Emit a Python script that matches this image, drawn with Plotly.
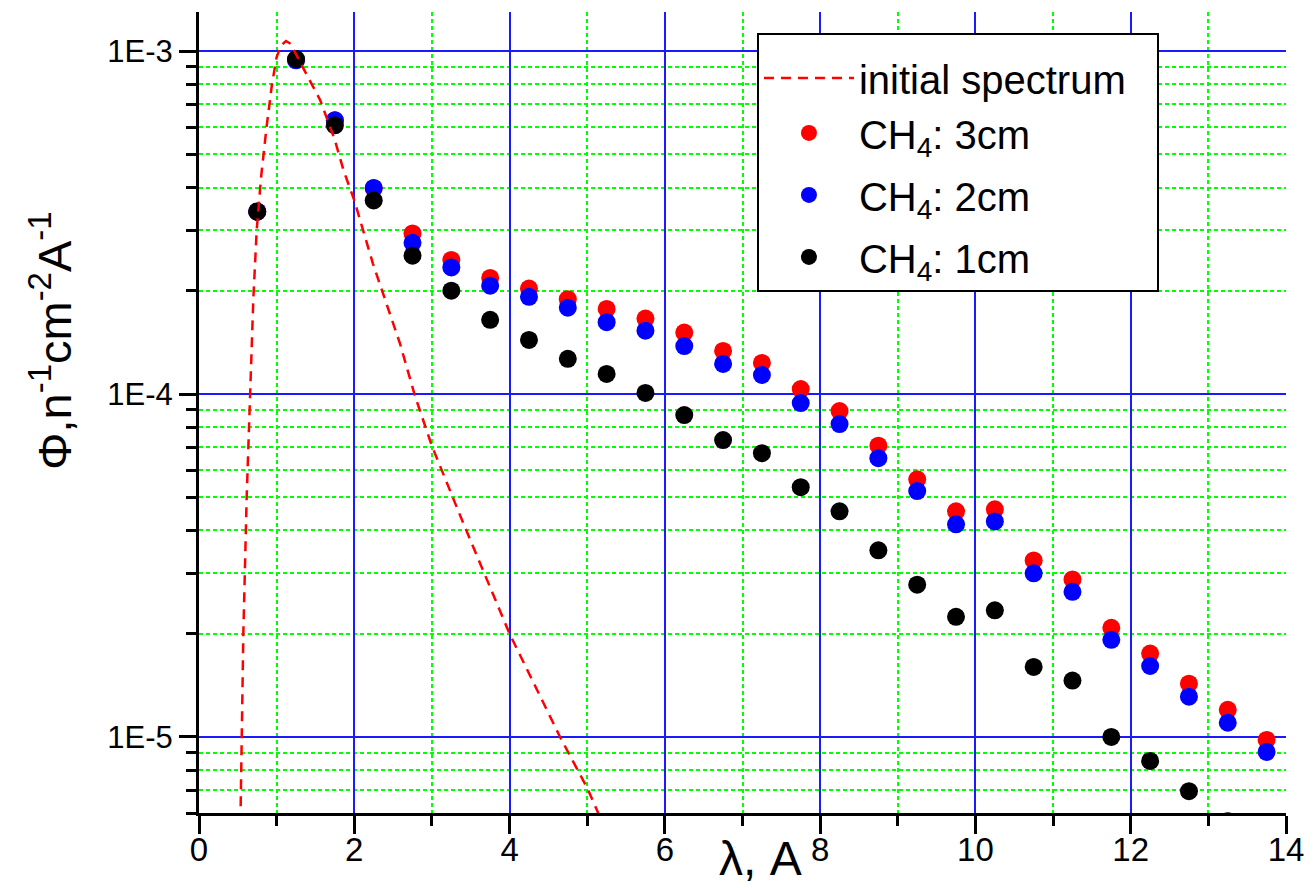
import plotly.graph_objects as go

# ---------------- data ----------------
wavelength = [0.75, 1.25, 1.75, 2.25, 2.75, 3.25, 3.75, 4.25, 4.75, 5.25, 5.75,
              6.25, 6.75, 7.25, 7.75, 8.25, 8.75, 9.25, 9.75, 10.25, 10.75,
              11.25, 11.75, 12.25, 12.75, 13.25, 13.75]

flux_3cm = [3.40e-4, 9.45e-4, 6.28e-4, 3.98e-4, 2.94e-4, 2.46e-4, 2.18e-4, 2.03e-4,
            1.89e-4, 1.77e-4, 1.66e-4, 1.51e-4, 1.335e-4, 1.232e-4, 1.034e-4,
            8.92e-5, 7.07e-5, 5.64e-5, 4.55e-5, 4.61e-5, 3.27e-5, 2.88e-5,
            2.08e-5, 1.75e-5, 1.43e-5, 1.20e-5, 9.80e-6]

flux_2cm = [3.40e-4, 9.40e-4, 6.28e-4, 3.99e-4, 2.76e-4, 2.34e-4, 2.07e-4, 1.92e-4,
            1.785e-4, 1.62e-4, 1.53e-4, 1.38e-4, 1.224e-4, 1.136e-4, 9.41e-5,
            8.17e-5, 6.50e-5, 5.21e-5, 4.17e-5, 4.25e-5, 3.00e-5, 2.65e-5,
            1.92e-5, 1.61e-5, 1.31e-5, 1.10e-5, 9.04e-6]

wavelength_1cm = wavelength[:26]
flux_1cm = [3.405e-4, 9.475e-4, 6.075e-4, 3.667e-4, 2.532e-4, 2.001e-4, 1.646e-4,
            1.438e-4, 1.266e-4, 1.144e-4, 1.007e-4, 8.68e-5, 7.34e-5, 6.72e-5,
            5.35e-5, 4.55e-5, 3.50e-5, 2.78e-5, 2.24e-5, 2.34e-5, 1.60e-5,
            1.46e-5, 1.0e-5, 8.51e-6, 6.95e-6, 5.68e-6]

initial_lambda = [0.53, 0.537, 0.55, 0.571, 0.614, 0.657, 0.70, 0.743, 0.80, 0.87,
                  0.94, 1.00, 1.06, 1.12, 1.18, 1.30, 1.56, 1.75, 1.86, 2.00,
                  2.24, 2.59, 2.78, 3.00, 3.40, 4.00, 4.65, 5.00, 5.12, 5.20]
initial_flux = [5.0e-6, 6.2e-6, 1.0e-5, 2.0e-5, 5.0e-5, 1.0e-4, 1.9e-4, 3.0e-4,
                4.3e-4, 6.0e-4, 8.0e-4, 9.6e-4, 1.04e-3, 1.07e-3, 1.05e-3, 9.3e-4,
                7.2e-4, 5.5e-4, 4.5e-4, 3.67e-4, 2.4e-4, 1.4e-4, 9.9e-5, 7.05e-5,
                4.22e-5, 2.0e-5, 1.0e-5, 7.1e-6, 6.2e-6, 5.6e-6]

x_major_ticks = [0, 2, 4, 6, 8, 10, 12, 14]
x_minor_ticks = [1, 3, 5, 7, 9, 11, 13]
y_major_ticks = [1e-5, 1e-4, 1e-3]
y_major_text = ["1E-5", "1E-4", "1E-3"]
y_minor_ticks = [m * 10.0 ** e for e in (-6, -5, -4, -3) for m in range(2, 10)]

FONT = "Liberation Sans, Arial, sans-serif"
BLUE_GRID = "#1a1aff"
GREEN_GRID = "#00ff00"
PAD = "\u00a0\u00a0\u200a"

fig = go.Figure()

fig.add_trace(go.Scatter(x=wavelength, y=flux_3cm, mode="markers",
                         name="CH<sub>4</sub>: 3cm", legendrank=2, legendgroup="g1",
                         marker=dict(color="#ff0000", size=18, line=dict(width=0))))
fig.add_trace(go.Scatter(x=wavelength, y=flux_2cm, mode="markers",
                         name="CH<sub>4</sub>: 2cm", legendrank=3, legendgroup="g3",
                         marker=dict(color="#0000ff", size=18, line=dict(width=0))))
fig.add_trace(go.Scatter(x=wavelength_1cm, y=flux_1cm, mode="markers",
                         name="CH<sub>4</sub>: 1cm", legendrank=4, legendgroup="g4",
                         marker=dict(color="#000000", size=18, line=dict(width=0))))
fig.add_trace(go.Scatter(x=initial_lambda, y=initial_flux, mode="lines",
                         name="initial spectrum" + PAD, legendrank=1, legendgroup="g1",
                         line=dict(color="#ff0000", width=2.5, dash="10px,7px")))

fig.update_layout(
    width=1316, height=888,
    margin=dict(l=199, r=30, t=12, b=75, pad=0),
    paper_bgcolor="white", plot_bgcolor="white",
    font=dict(family=FONT, color="black"),
    showlegend=True,
    legend=dict(
        x=0.5133, y=0.9737, xanchor="left", yanchor="top",
        bgcolor="white", bordercolor="black", borderwidth=2,
        font=dict(family=FONT, size=40, color="black"),
        title=dict(text="\u00a0", font=dict(size=8)),
        itemwidth=90, tracegroupgap=7, traceorder="grouped",
    ),
)

fig.update_xaxes(
    range=[0, 14],
    showline=True, linecolor="black", linewidth=3, mirror=False,
    zeroline=False,
    tickmode="array", tickvals=x_major_ticks,
    ticks="outside", ticklen=18, tickwidth=3, tickcolor="black",
    tickfont=dict(family=FONT, size=33, color="black"),
    ticklabelstandoff=-13,
    showgrid=True, gridcolor=BLUE_GRID, gridwidth=1.5,
    minor=dict(tickmode="array", tickvals=x_minor_ticks, ticks="outside",
               ticklen=10, tickwidth=3, tickcolor="black",
               showgrid=True, gridcolor=GREEN_GRID, gridwidth=1.5,
               griddash="4px,3px"),
)

fig.update_yaxes(
    type="log",
    range=[-5.2218, -2.8861],
    showline=True, linecolor="black", linewidth=3, mirror=False,
    zeroline=False,
    tickmode="array", tickvals=y_major_ticks, ticktext=y_major_text,
    ticks="outside", ticklen=17, tickwidth=3, tickcolor="black",
    tickfont=dict(family=FONT, size=31, color="black"),
    showgrid=True, gridcolor=BLUE_GRID, gridwidth=1.5,
    minor=dict(tickmode="array", tickvals=y_minor_ticks, ticks="outside",
               ticklen=10, tickwidth=3, tickcolor="black",
               showgrid=True, gridcolor=GREEN_GRID, gridwidth=1.5,
               griddash="4px,3px"),
)

fig.add_annotation(
    text="Φ,n<sup>-1</sup>cm<sup>-2</sup>A<sup>-1</sup>",
    xref="paper", yref="paper", x=-0.136, y=0.5895,
    xanchor="center", yanchor="middle", textangle=-90, showarrow=False,
    font=dict(family=FONT, size=47, color="black"),
)
fig.add_annotation(
    text="λ, A",
    xref="paper", yref="paper", x=0.517, y=-0.057,
    xanchor="center", yanchor="middle", showarrow=False,
    font=dict(family=FONT, size=48, color="black"),
)

fig.write_html("out.html", config={"displayModeBar": False},
               post_script="document.body.style.margin='0';")
